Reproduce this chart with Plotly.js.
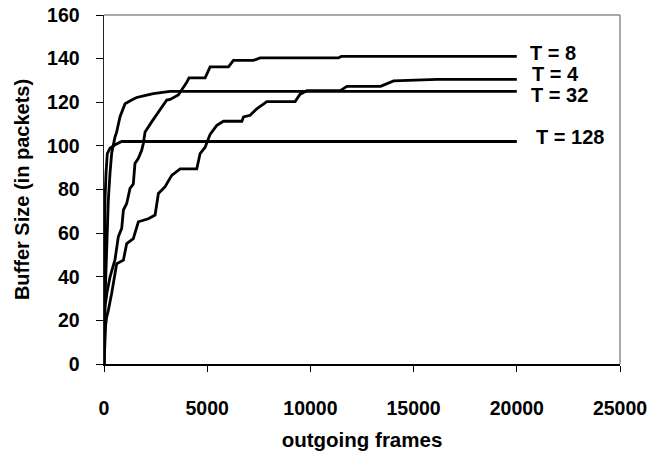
<!DOCTYPE html>
<html>
<head>
<meta charset="utf-8">
<script src="https://cdn.plot.ly/plotly-3.0.1.min.js"></script>
<style>html,body{margin:0;padding:0;background:#fff;}#chart{width:652px;height:453px;}</style>
</head>
<body>
<div id="chart"></div>
<script>
// ---- data ----
const seriesNames = ["T = 8", "T = 4", "T = 32", "T = 128"];

const t4x = [0, 30, 80, 130, 210, 370, 615, 940, 1100, 1420, 1665, 2150, 2475, 2635, 2960, 3280, 3690, 4495, 4656, 4900, 5140, 5465, 5790, 6680, 6760, 7080, 7400, 7890, 9260, 9500, 9830, 11450, 11770, 13400, 14030, 16140, 20000];
const t4y = [0, 10, 18, 21.5, 24.6, 32.3, 46, 47.6, 55.2, 57.5, 65.2, 66.6, 68.3, 78.2, 81.3, 86.5, 89.5, 89.5, 96.5, 99.4, 105.3, 109.4, 111.3, 111.3, 113.3, 114, 117, 120.3, 120.3, 123.7, 125.3, 125.3, 127.3, 127.3, 129.8, 130.5, 130.5];

const t8x = [0, 20, 48, 150, 290, 533, 695, 858, 940, 1100, 1260, 1420, 1500, 1665, 1825, 1907, 1990, 2310, 2800, 3040, 3200, 3600, 4010, 4120, 4900, 5140, 6030, 6270, 7240, 7560, 11350, 11500, 20000];
const t8y = [0, 15, 26.3, 33, 39.8, 47.8, 58.4, 62.2, 70.6, 73.6, 80.5, 82.5, 91.9, 94.3, 98, 101.1, 106.4, 111, 117.9, 121, 121.3, 123.3, 129.2, 131.2, 131.2, 136.2, 136.2, 139.2, 139.2, 140.3, 140.3, 141, 141];

const t32x = [0, 48, 130, 210, 290, 370, 533, 615, 776, 858, 1020, 1340, 1585, 2070, 2390, 3200, 20000];
const t32y = [0, 29.4, 52.3, 75.2, 87.4, 96.5, 104.1, 106.4, 113.4, 115.4, 119.3, 121, 122.2, 123.3, 124, 125, 125];

const t128x = [0, 16, 48, 97, 160, 290, 533, 858, 20000];
const t128y = [0, 44.6, 75.2, 87.4, 96.5, 98.9, 100.5, 102, 102];

// label anchor values (data units)
const labelX = [20580, 20710, 20660, 20870];
const labelY = [142.8, 132.8, 123.2, 104.2];

const xTicks = [0, 5000, 10000, 15000, 20000, 25000];
const yTicks = [0, 20, 40, 60, 80, 100, 120, 140, 160];

const FONT = "Liberation Sans, Arial, Helvetica, sans-serif";
const lineStyle = {color: "#000000", width: 2.8};

const xs = [t8x, t4x, t32x, t128x];
const ys = [t8y, t4y, t32y, t128y];

const traces = seriesNames.map((n, i) => ({
  x: xs[i], y: ys[i], name: n, type: "scatter", mode: "lines",
  line: lineStyle, hoverinfo: "skip"
}));

const annotations = seriesNames.map((n, i) => ({
  x: labelX[i], y: labelY[i], xref: "x", yref: "y",
  text: n, showarrow: false, xanchor: "left", yanchor: "middle",
  borderpad: 0,
  font: {family: FONT, size: 20, color: "#000", weight: "bold"}
}));

const layout = {
  width: 652, height: 453,
  margin: {l: 104, r: 32, t: 15, b: 89, pad: 0},
  paper_bgcolor: "#ffffff", plot_bgcolor: "#ffffff",
  showlegend: false,
  font: {family: FONT, color: "#000"},
  xaxis: {
    range: [0, 25000], tickvals: xTicks, ticktext: xTicks.map(String),
    showgrid: false, zeroline: false,
    showline: true, linecolor: "#000", linewidth: 1.5,
    ticks: "outside", ticklen: 6, tickcolor: "#000", tickwidth: 1,
    ticklabelstandoff: 20,
    tickfont: {family: FONT, size: 19.5, color: "#000", weight: "bold"},
    title: {text: "outgoing frames", standoff: 14,
            font: {family: FONT, size: 20.5, color: "#000", weight: "bold"}},
    automargin: false
  },
  yaxis: {
    range: [0, 160], tickvals: yTicks, ticktext: yTicks.map(String),
    showgrid: false, zeroline: false,
    showline: true, linecolor: "#222", linewidth: 1.5,
    ticks: "outside", ticklen: 7, tickcolor: "#000", tickwidth: 1,
    ticklabelstandoff: 12,
    tickfont: {family: FONT, size: 19.5, color: "#000", weight: "bold"},
    title: {text: "Buffer Size (in packets)", standoff: 12,
            font: {family: FONT, size: 20, color: "#000", weight: "bold"}},
    automargin: false
  },
  shapes: [
    {type: "line", xref: "paper", yref: "paper", x0: 0, x1: 1, y0: 1, y1: 1,
     line: {color: "#8c8c8c", width: 1.5}},
    {type: "line", xref: "paper", yref: "paper", x0: 1, x1: 1, y0: 0, y1: 1,
     line: {color: "#8c8c8c", width: 1.5}}
  ],
  annotations: annotations
};

Plotly.newPlot("chart", traces, layout, {staticPlot: true, displayModeBar: false});
</script>
</body>
</html>
